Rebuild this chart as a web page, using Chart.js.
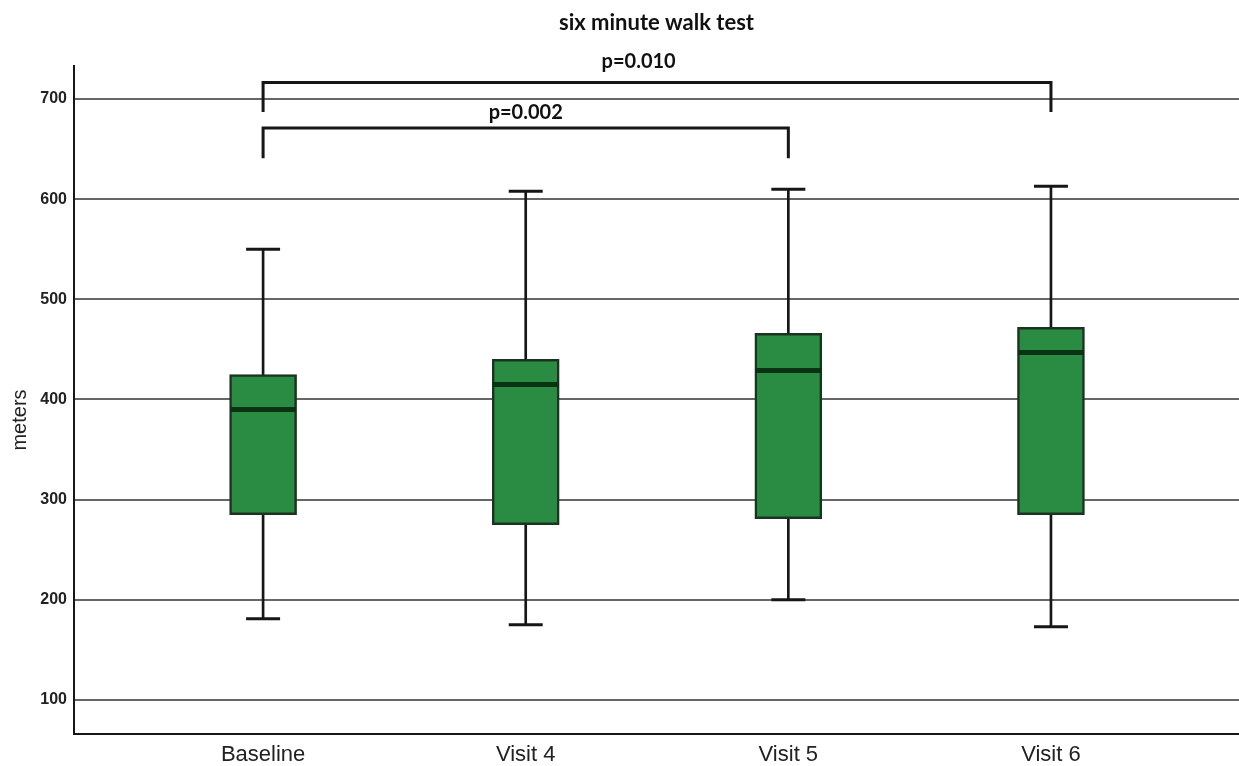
<!DOCTYPE html>
<html>
<head>
<meta charset="utf-8">
<script src="https://cdn.jsdelivr.net/npm/chart.js@4/dist/chart.umd.min.js"></script>
<style>
  html, body { margin: 0; padding: 0; background: #fff; }
  #wrap { width: 1239px; height: 766px; }
</style>
</head>
<body>
<div id="wrap"><canvas id="walk"></canvas></div>
<script>
// six minute walk test, box plot values
const categories = ['Baseline', 'Visit 4', 'Visit 5', 'Visit 6'];
const whiskerLow  = [181, 175, 200, 173];
const quartile1   = [285, 275, 281, 285];
const medians     = [390, 415, 429, 447];
const quartile3   = [425, 440, 466, 472];
const whiskerHigh = [550, 608, 610, 613];
const yTicks = [100, 200, 300, 400, 500, 600, 700];

// significance brackets: from / to category, bracket top, leg end, text
const bracketFrom   = [0, 0];
const bracketTo     = [3, 2];
const bracketTop    = [716.5, 671];
const bracketLegEnd = [687, 641];
const bracketText   = ['p=0.010', 'p=0.002'];
const bracketTextX  = [1.43, 1.0];
const bracketTextY  = [737, 687];

const green = '#2a8c42';
const ink = '#161616';

const boxData = categories.map((c, i) => ({ x: i, y: [quartile1[i], quartile3[i]] }));
const whiskerData = categories.map((c, i) => ({ x: i, y: [whiskerLow[i], whiskerHigh[i]] }));
const capData = categories.flatMap((c, i) => [{ x: i, y: whiskerLow[i] }, { x: i, y: whiskerHigh[i] }]);
const medianData = categories.map((c, i) => ({ x: i, y: medians[i] }));

const annotations = {
    id: 'annotations',
    afterDraw(chart) {
        const ctx = chart.ctx;
        const xs = chart.scales.x, ys = chart.scales.y;
        const area = chart.chartArea;
        ctx.save();
        // title
        ctx.fillStyle = '#111';
        ctx.font = 'bold 22px Lato';
        ctx.textAlign = 'center';
        ctx.textBaseline = 'middle';
        ctx.fillText('six minute walk test', (area.left + area.right) / 2, 23);

        // y axis title, sits a little below the middle as in the figure
        ctx.save();
        ctx.translate(20, (area.top + area.bottom) / 2 + 20);
        ctx.rotate(-Math.PI / 2);
        ctx.fillStyle = '#222';
        ctx.font = '20px "Liberation Sans"';
        ctx.fillText('meters', 0, 0);
        ctx.restore();

        ctx.strokeStyle = ink;
        ctx.lineWidth = 3;
        for (let k = 0; k < bracketText.length; k++) {
            const x1 = xs.getPixelForValue(bracketFrom[k]);
            const x2 = xs.getPixelForValue(bracketTo[k]);
            const yt = ys.getPixelForValue(bracketTop[k]);
            const yl = ys.getPixelForValue(bracketLegEnd[k]);
            ctx.beginPath();
            ctx.moveTo(x1, yl);
            ctx.lineTo(x1, yt);
            ctx.lineTo(x2, yt);
            ctx.lineTo(x2, yl);
            ctx.stroke();
            ctx.font = 'bold 20px Lato';
            ctx.fillText(bracketText[k], xs.getPixelForValue(bracketTextX[k]), ys.getPixelForValue(bracketTextY[k]));
        }
        ctx.restore();
    }
};

new Chart(document.getElementById('walk'), {
    type: 'bar',
    data: {
        datasets: [
            {
                type: 'scatter',
                data: medianData,
                pointStyle: 'line',
                radius: 33,
                borderWidth: 5,
                borderColor: '#0a3313',
                order: 0
            },
            {
                type: 'scatter',
                data: capData,
                pointStyle: 'line',
                radius: 17,
                borderWidth: 3,
                borderColor: ink,
                order: 1
            },
            {
                data: boxData,
                backgroundColor: green,
                borderColor: '#1b3320',
                borderWidth: 2.5,
                borderSkipped: false,
                barThickness: 67,
                grouped: false,
                order: 2
            },
            {
                data: whiskerData,
                backgroundColor: ink,
                borderWidth: 0,
                barThickness: 2,
                grouped: false,
                order: 3
            }
        ]
    },
    options: {
        responsive: true,
        maintainAspectRatio: false,
        animation: false,
        layout: { autoPadding: false, padding: { top: 66, right: 0, bottom: 0, left: 0 } },
        plugins: {
            legend: { display: false },
            tooltip: { enabled: false }
        },
        scales: {
            x: {
                type: 'linear',
                offset: false,
                min: -0.72,
                max: 3.716,
                afterBuildTicks: (scale) => { scale.ticks = categories.map((c, i) => ({ value: i })); },
                afterFit: (scale) => { scale.height = 32; scale.paddingRight = 0; scale.paddingLeft = 0; },
                grid: { display: false, offset: false },
                border: { display: true, color: ink, width: 2 },
                ticks: {
                    callback: (v) => categories[v],
                    color: '#222',
                    padding: 0,
                    maxRotation: 0,
                    font: { family: 'Liberation Sans', size: 22 }
                }
            },
            y: {
                min: 66,
                max: 733,
                afterBuildTicks: (scale) => { scale.ticks = yTicks.map(v => ({ value: v })); },
                afterFit: (scale) => { scale.width = 74; },
                grid: { color: '#666', lineWidth: 2, drawTicks: false },
                border: { display: true, color: ink, width: 2 },
                ticks: {
                    color: '#222',
                    padding: 7,
                    font: { family: 'Liberation Sans', size: 16, weight: 'bold' }
                }
            }
        }
    },
    plugins: [annotations]
});
</script>
</body>
</html>
